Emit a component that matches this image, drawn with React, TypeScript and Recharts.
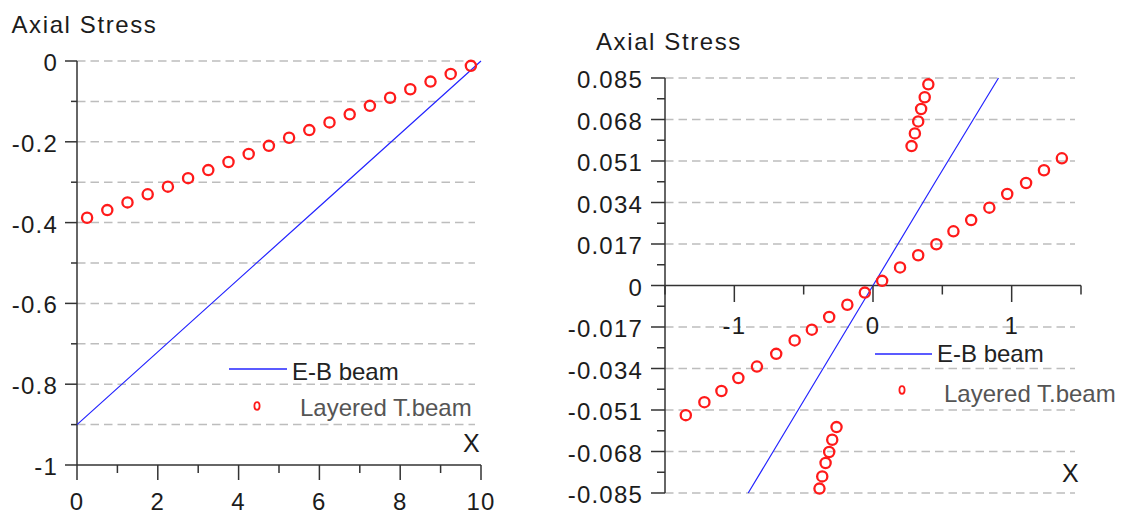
import { ScatterChart, Scatter, XAxis, YAxis, CartesianGrid, ReferenceLine, Legend } from "recharts";

const FONT = '"Liberation Sans", Arial, Helvetica, sans-serif';
const AXIS = "#333";
const GRID = "#bdbdbd";
const RED = "#ff1a1a";
const BLUE = "#2424ff";

const EB_NAME = "E-B beam";
const LT_NAME = "Layered T.beam";

// left panel: axial stress along the beam
const LEFT_EB_X = [0, 2, 4, 6, 8, 10];
const LEFT_EB_Y = [-0.9, -0.72, -0.54, -0.36, -0.18, 0];
const LEFT_LT_X = [0.25, 0.75, 1.25, 1.75, 2.25, 2.75, 3.25, 3.75, 4.25, 4.75, 5.25, 5.75, 6.25, 6.75, 7.25, 7.75, 8.25, 8.75, 9.25, 9.75];
const LEFT_LT_Y = [-0.388, -0.369, -0.35, -0.33, -0.311, -0.29, -0.27, -0.25, -0.23, -0.21, -0.19, -0.171, -0.152, -0.132, -0.111, -0.091, -0.07, -0.051, -0.032, -0.012];
const LEFT_X_TICKS = [0, 1, 2, 3, 4, 5, 6, 7, 8, 9, 10];
const LEFT_X_LABELS = [0, 2, 4, 6, 8, 10];
const LEFT_Y_TICKS = [-1, -0.9, -0.8, -0.7, -0.6, -0.5, -0.4, -0.3, -0.2, -0.1, 0];
const LEFT_Y_LABELS = [-1, -0.8, -0.6, -0.4, -0.2, 0];
const LEFT_GRID = [-0.9, -0.8, -0.7, -0.6, -0.5, -0.4, -0.3, -0.2, -0.1, 0];

// right panel: axial stress through the thickness
const RIGHT_EB_X = [-0.9, -0.45, 0, 0.45, 0.905];
const RIGHT_EB_Y = [-0.085, -0.0425, 0, 0.0425, 0.085];
const RIGHT_LT_X = [
  -1.35, -1.216, -1.093, -0.971, -0.837, -0.698, -0.565, -0.441, -0.316, -0.185, -0.059,
  0.066, 0.195, 0.326, 0.457, 0.58, 0.708, 0.839, 0.968, 1.104, 1.233, 1.362,
  0.278, 0.302, 0.326, 0.347, 0.373, 0.399,
  -0.263, -0.294, -0.316, -0.342, -0.366, -0.386,
];
const RIGHT_LT_Y = [
  -0.0531, -0.0478, -0.0432, -0.0379, -0.0332, -0.028, -0.0225, -0.0181, -0.0129, -0.0079, -0.0029,
  0.0019, 0.0074, 0.0124, 0.0169, 0.0222, 0.0268, 0.0319, 0.0375, 0.042, 0.0472, 0.0521,
  0.0571, 0.0623, 0.0672, 0.0723, 0.0771, 0.0824,
  -0.058, -0.0632, -0.0682, -0.0727, -0.0782, -0.0832,
];
const RIGHT_X_TICKS = [-1.5, -1, -0.5, 0, 0.5, 1, 1.5];
const RIGHT_X_LABELS = [-1, 0, 1];
const RIGHT_Y_TICKS = [
  -0.085, -0.0765, -0.068, -0.0595, -0.051, -0.0425, -0.034, -0.0255, -0.017, -0.0085, 0,
  0.0085, 0.017, 0.0255, 0.034, 0.0425, 0.051, 0.0595, 0.068, 0.0765, 0.085,
];
const RIGHT_Y_LABELS = [-0.085, -0.068, -0.051, -0.034, -0.017, 0, 0.017, 0.034, 0.051, 0.068, 0.085];
const RIGHT_GRID = [-0.085, -0.068, -0.051, -0.034, -0.017, 0.017, 0.034, 0.051, 0.068, 0.085];

const toPoints = (xs: number[], ys: number[]) => xs.map((x, i) => ({ x, y: ys[i] }));

const RIGHT_PLOT_H = 415;

const TICK_TEXT = { fontFamily: FONT, fontSize: 24, fill: "#1c1c1c", letterSpacing: 1.2 };

const isIn = (list: number[], v: number) => list.some((t) => Math.abs(t - v) < 1e-9);

type TickSpec = { labels: number[]; major: number; minor: number; gap: number; lift?: number };

function makeYTick(spec: TickSpec) {
  return function YTick(props: any) {
    const { x, y, payload } = props;
    const major = isIn(spec.labels, payload.value);
    const len = major ? spec.major : spec.minor;
    return (
      <g>
        <line x1={x - len} x2={x} y1={y} y2={y} stroke={AXIS} strokeWidth={1.5} />
        {major && (
          <text x={x - spec.major - spec.gap} y={y} dy="0.42em" textAnchor="end" {...TICK_TEXT}>
            {String(payload.value)}
          </text>
        )}
      </g>
    );
  };
}

// x ticks hang below the axis; lift moves them up to a centred zero line
function makeXTick(spec: TickSpec) {
  return function XTick(props: any) {
    const { x, payload } = props;
    const y = props.y - (spec.lift ?? 0);
    const major = isIn(spec.labels, payload.value);
    const len = major ? spec.major : spec.minor;
    return (
      <g>
        <line x1={x} x2={x} y1={y} y2={y + len} stroke={AXIS} strokeWidth={1.5} />
        {major && (
          <text x={x} y={y + spec.gap} dy="0.36em" textAnchor="middle" {...TICK_TEXT}>
            {String(payload.value)}
          </text>
        )}
      </g>
    );
  };
}

type LegendPos = {
  line: [number, number, number];
  ebText: [number, number];
  dot: [number, number];
  ltText: [number, number];
};

function makeLegend(pos: LegendPos) {
  return function LegendBox(props: any) {
    const items: any[] = props.payload ?? [];
    return (
      <svg width={270} height={90} style={{ overflow: "visible" }}>
        {items.map((item) =>
          item.value === EB_NAME ? (
            <g key={item.value}>
              <line x1={pos.line[0]} x2={pos.line[1]} y1={pos.line[2]} y2={pos.line[2]} stroke={BLUE} strokeWidth={1.5} />
              <text x={pos.ebText[0]} y={pos.ebText[1]} fontFamily={FONT} fontSize={24} fill="#222">
                {item.value}
              </text>
            </g>
          ) : (
            <g key={item.value}>
              <ellipse cx={pos.dot[0]} cy={pos.dot[1]} rx={2.6} ry={3.8} fill="none" stroke={RED} strokeWidth={1.8} />
              <text x={pos.ltText[0]} y={pos.ltText[1]} fontFamily={FONT} fontSize={24} fill="#555">
                {item.value}
              </text>
            </g>
          )
        )}
      </svg>
    );
  };
}

const RedRing = (props: any) => (
  <circle cx={props.cx} cy={props.cy} r={5.1} fill="none" stroke={RED} strokeWidth={2.3} />
);
const NoMark = () => <g />;

const labelStyle = (left: number, top: number, size: number, spacing = 0): React.CSSProperties => ({
  position: "absolute",
  left,
  top,
  fontFamily: FONT,
  fontSize: size,
  lineHeight: `${size}px`,
  letterSpacing: spacing,
  color: "#1c1c1c",
  whiteSpace: "nowrap",
});

export default function App() {
  return (
    <div style={{ position: "absolute", left: 0, top: 0, width: 1129, height: 512, background: "#fff", overflow: "hidden" }}>
      <div style={{ position: "absolute", left: 0, top: 0 }}>
        <ScatterChart width={500} height={512} margin={{ top: 61, right: 19, bottom: 0, left: 0 }}>
          <CartesianGrid
            vertical={false}
            x={77}
            width={398}
            stroke={GRID}
            strokeWidth={1.5}
            strokeDasharray="8.5 5"
            horizontalValues={LEFT_GRID}
          />
          <XAxis
            type="number"
            dataKey="x"
            domain={[0, 10]}
            ticks={LEFT_X_TICKS}
            interval={0}
            height={47}
            tickSize={0}
            tickMargin={0}
            tickLine={false}
            axisLine={{ stroke: AXIS, strokeWidth: 1.5 }}
            tick={makeXTick({ labels: LEFT_X_LABELS, major: 15, minor: 8, gap: 36.5 })}
          />
          <YAxis
            type="number"
            dataKey="y"
            domain={[-1, 0]}
            ticks={LEFT_Y_TICKS}
            interval={0}
            width={77}
            tickSize={0}
            tickMargin={0}
            tickLine={false}
            axisLine={{ stroke: AXIS, strokeWidth: 1.5 }}
            tick={makeYTick({ labels: LEFT_Y_LABELS, major: 12, minor: 6, gap: 7 })}
          />
          <Legend
            layout="vertical"
            align="center"
            verticalAlign="middle"
            wrapperStyle={{ left: 220, top: 350, width: 270, height: 90 }}
            content={makeLegend({ line: [9, 67, 19], ebText: [72, 30], dot: [37, 56], ltText: [80, 65.6] })}
          />
          <Scatter
            name={EB_NAME}
            data={toPoints(LEFT_EB_X, LEFT_EB_Y)}
            line={{ stroke: BLUE, strokeWidth: 1.2 }}
            shape={NoMark}
            fill={BLUE}
            legendType="line"
            isAnimationActive={false}
          />
          <Scatter
            name={LT_NAME}
            data={toPoints(LEFT_LT_X, LEFT_LT_Y)}
            shape={RedRing}
            fill={RED}
            legendType="circle"
            isAnimationActive={false}
          />
        </ScatterChart>
      </div>
      <div style={labelStyle(11.5, 12.7, 24, 1.6)}>Axial Stress</div>
      <div style={labelStyle(463, 430.5, 25)}>X</div>

      <div style={{ position: "absolute", left: 560, top: 0 }}>
        <ScatterChart width={569} height={512} margin={{ top: 78, right: 48, bottom: 0, left: 0 }}>
          <CartesianGrid
            vertical={false}
            x={105}
            width={410}
            stroke={GRID}
            strokeWidth={1.5}
            strokeDasharray="8.5 5"
            horizontalValues={RIGHT_GRID}
          />
          <XAxis
            type="number"
            dataKey="x"
            domain={[-1.5, 1.5]}
            ticks={RIGHT_X_TICKS}
            interval={0}
            height={19}
            tickSize={0}
            tickMargin={0}
            tickLine={false}
            axisLine={false}
            tick={makeXTick({ labels: RIGHT_X_LABELS, major: 16.5, minor: 9, gap: 39.5, lift: RIGHT_PLOT_H / 2 })}
          />
          <YAxis
            type="number"
            dataKey="y"
            domain={[-0.085, 0.085]}
            ticks={RIGHT_Y_TICKS}
            interval={0}
            width={105}
            tickSize={0}
            tickMargin={0}
            tickLine={false}
            axisLine={{ stroke: AXIS, strokeWidth: 1.5 }}
            tick={makeYTick({ labels: RIGHT_Y_LABELS, major: 14, minor: 8, gap: 8 })}
          />
          <ReferenceLine y={0} stroke={AXIS} strokeWidth={1.5} />
          <Legend
            layout="vertical"
            align="center"
            verticalAlign="middle"
            wrapperStyle={{ left: 300, top: 330, width: 270, height: 90 }}
            content={makeLegend({ line: [15, 72, 24], ebText: [77, 32.3], dot: [42, 60], ltText: [84, 71.7] })}
          />
          <Scatter
            name={EB_NAME}
            data={toPoints(RIGHT_EB_X, RIGHT_EB_Y)}
            line={{ stroke: BLUE, strokeWidth: 1.2 }}
            shape={NoMark}
            fill={BLUE}
            legendType="line"
            isAnimationActive={false}
          />
          <Scatter
            name={LT_NAME}
            data={toPoints(RIGHT_LT_X, RIGHT_LT_Y)}
            shape={RedRing}
            fill={RED}
            legendType="circle"
            isAnimationActive={false}
          />
        </ScatterChart>
      </div>
      <div style={labelStyle(596, 29.7, 24, 1.6)}>Axial Stress</div>
      <div style={labelStyle(1062, 460.5, 25)}>X</div>
    </div>
  );
}
